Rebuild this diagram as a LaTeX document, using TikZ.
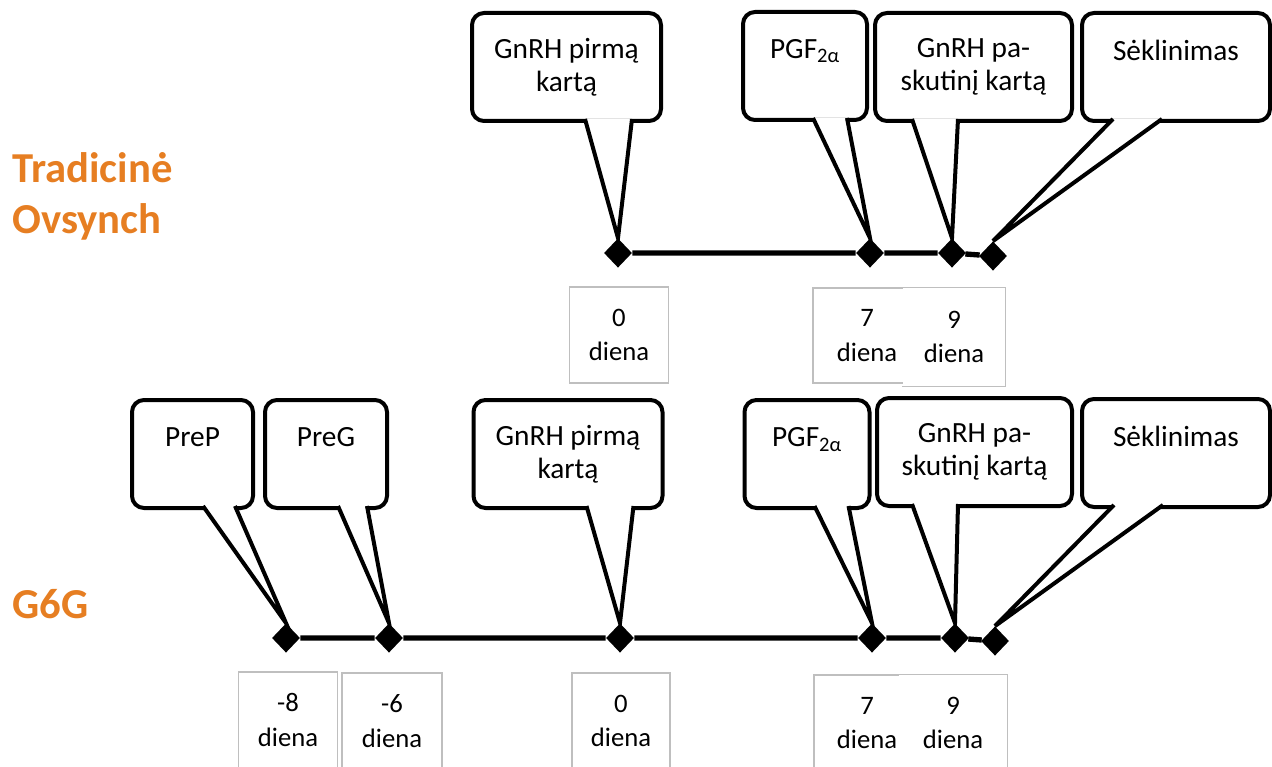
\documentclass[tikz,border=0pt]{standalone}
\usepackage{fontspec}
\setmainfont{Carlito}
\usetikzlibrary{shapes.geometric,calc}
\definecolor{titleorange}{RGB}{230,126,34}

\begin{document}
\begin{tikzpicture}[x=0.75pt,y=-0.75pt]

\tikzset{bubble/.style = {draw, line width=3pt, rounded corners=9pt, fill=white, outer sep=0pt, align=center, minimum height=81pt, font=\fontsize{22}{25}\selectfont}}
\tikzset{tail/.style = {draw, line width=3pt, fill=white}}
\tikzset{dmd/.style = {shape=diamond, fill=black, inner sep=0pt, minimum width=21pt, minimum height=22pt}}
\tikzset{timeline/.style = {line width=4pt}}
\tikzset{daybox/.style = {draw=black!25, line width=0.8pt, fill=white, align=center, minimum width=75pt, minimum height=72pt, font=\fontsize{20}{26}\selectfont}}
\tikzset{dayedge/.style = {draw=black!25, line width=0.8pt}}
\tikzset{heading/.style = {text=titleorange, inner sep=0pt, align=left, font=\fontsize{32}{38}\selectfont\bfseries}}

\useasboundingbox (0,0) rectangle (1272,767);

%titles
\node[heading, anchor=base west] (h1) at (12,233) {Tradicinė\\Ovsynch};
\node[heading, anchor=base west] (h2) at (12,618) {G6G};

%callouts
\node[bubble, minimum width=141.75pt] (p1) at (566.5,67) {GnRH pirmą\\kartą};
\node[bubble, minimum width=93pt] (p2) at (805,66) {PGF\textsubscript{2α}\\\mbox{}};
\node[bubble, minimum width=147.75pt] (p3) at (973.5,67) {GnRH pa-\\skutinį kartą};
\node[bubble, minimum width=141pt] (p4) at (1176,67) {Sėklinimas\\\mbox{}};

\node[bubble, minimum width=90.75pt] (q1) at (192.5,454) {PreP\\\mbox{}};
\node[bubble, minimum width=91.5pt] (q2) at (326,454) {PreG\\\mbox{}};
\node[bubble, minimum width=141.75pt] (q3) at (568,454) {GnRH pirmą\\kartą};
\node[bubble, minimum width=93.75pt] (q4) at (807,454) {PGF\textsubscript{2α}\\\mbox{}};
\node[bubble, minimum width=146.25pt] (q5) at (974.5,452) {GnRH pa-\\skutinį kartą};
\node[bubble, minimum width=141pt] (q6) at (1176,453) {Sėklinimas\\\mbox{}};

%diamonds
\node[dmd] (a1) at (618,253) {};
\node[dmd] (a2) at (870,253) {};
\node[dmd] (a3) at (952,253) {};
\node[dmd] (a4) at (993,256) {};

\node[dmd] (b1) at (286,638) {};
\node[dmd] (b2) at (389,638) {};
\node[dmd] (b3) at (620,638) {};
\node[dmd] (b4) at (872,638) {};
\node[dmd] (b5) at (955,638) {};
\node[dmd] (b6) at (995,641) {};

%tails
\draw[tail] ($(p1.south west)+(113,-2)$) -- (a1.north) -- ($(p1.south west)+(160,-2)$);
\draw[tail] ($(p2.south west)+(70,-2)$) -- (a2.north) -- ($(p2.south west)+(104,-2)$);
\draw[tail] ($(p3.south west)+(37,-2)$) -- (a3.north) -- ($(p3.south west)+(83,-2)$);
\draw[tail] ($(p4.south west)+(31,-2)$) -- (a4.north) -- ($(p4.south west)+(80,-2)$);

\draw[tail] ($(q1.south west)+(71,-2)$) -- (b1.north) -- ($(q1.south west)+(103,-2)$);
\draw[tail] ($(q2.south west)+(73,-2)$) -- (b2.north) -- ($(q2.south west)+(102,-2)$);
\draw[tail] ($(q3.south west)+(113,-2)$) -- (b3.north) -- ($(q3.south west)+(160,-2)$);
\draw[tail] ($(q4.south west)+(70,-2)$) -- (b4.north) -- ($(q4.south west)+(104,-2)$);
\draw[tail] ($(q5.south west)+(35,-2)$) -- (b5.north) -- ($(q5.south west)+(81,-2)$);
\draw[tail] ($(q6.south west)+(32,-2)$) -- (b6.north) -- ($(q6.south west)+(81,-2)$);

%timeline
\draw[timeline] (a1) -- (a2) -- (a3) -- (a4);
\draw[timeline] (b1) -- (b2) -- (b3) -- (b4) -- (b5) -- (b6);

%day boxes
\node[daybox, minimum width=74pt] (s1) at (619,335) {0\\diena};
\node[daybox, minimum width=81pt, minimum height=71.25pt] (s2) at (867,335.5) {7\\diena};
\node[daybox, draw=none, minimum width=76.5pt, minimum height=73.5pt] (s3) at (954,337) {9\\diena};
\draw[dayedge] (s3.north west) -- (s3.north east) -- (s3.south east) -- (s3.south west);

\node[daybox, minimum width=74pt] (t1) at (288,720) {-8\\diena};
\node[daybox] (t2) at (392,721) {-6\\diena};
\node[daybox, minimum width=73.5pt] (t3) at (621,721) {0\\diena};
\node[daybox, minimum width=79.5pt] (t4) at (867,723) {7\\diena};
\node[daybox, draw=none, minimum width=81pt] (t5) at (953,723) {9\\diena};
\draw[dayedge] (t5.north west) -- (t5.north east) -- (t5.south east) -- (t5.south west);

\end{tikzpicture}
\end{document}
